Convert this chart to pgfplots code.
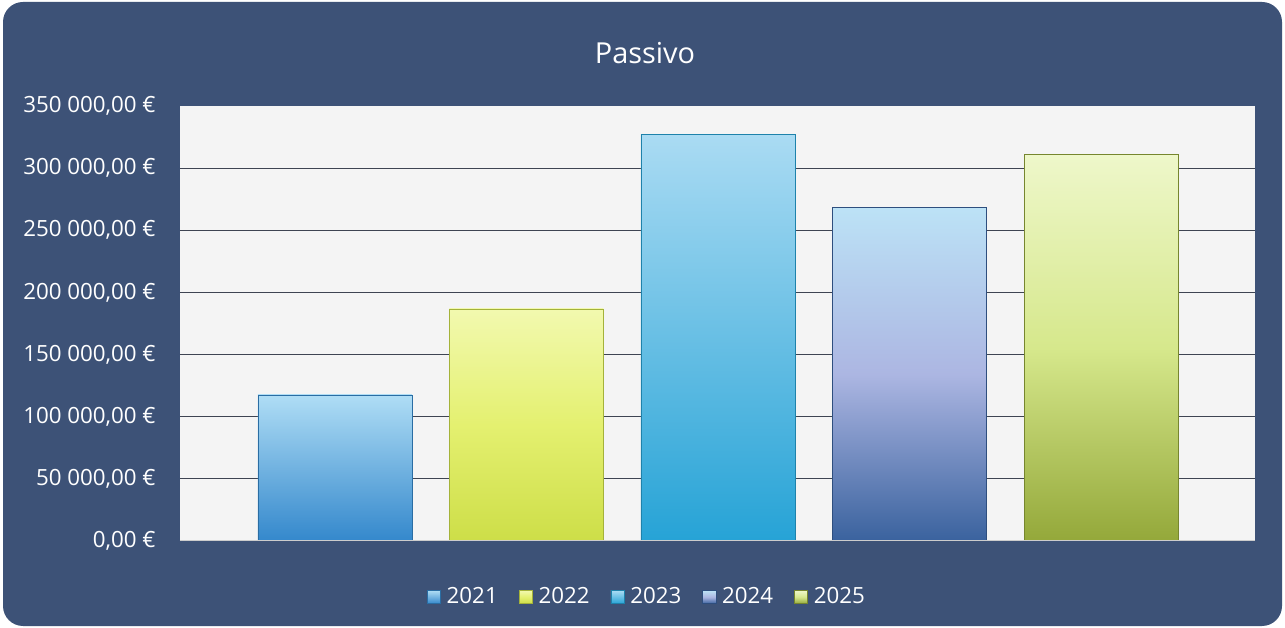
\documentclass[border=0pt]{standalone}
\usepackage{fontspec}
\setmainfont{Open Sans}
\usepackage{pgfplots}
\pgfplotsset{compat=1.18}

\definecolor{cardbg}{RGB}{61,82,119}
\definecolor{plotbg}{RGB}{244,244,244}
\definecolor{gridc}{RGB}{62,68,82}
\definecolor{aTop}{RGB}{175,221,245}\definecolor{aBot}{RGB}{52,136,204}
\definecolor{bTop}{RGB}{242,249,175}\definecolor{bMid}{RGB}{228,240,112}\definecolor{bBot}{RGB}{205,222,72}
\definecolor{cTop}{RGB}{170,219,243}\definecolor{cBot}{RGB}{38,163,214}
\definecolor{dTop}{RGB}{188,226,246}\definecolor{dMid}{RGB}{172,182,226}\definecolor{dBot}{RGB}{58,98,158}
\definecolor{eTop}{RGB}{238,247,202}\definecolor{eMid}{RGB}{214,232,140}\definecolor{eBot}{RGB}{148,168,58}

\begin{document}
\begin{tikzpicture}
% card
\useasboundingbox (0,0) rectangle (642.5bp,314bp);
\fill[white] (0,0) rectangle (642.5bp,314bp);
\fill[cardbg, rounded corners=10bp] (1.5bp,1bp) rectangle (641bp,313bp);

\begin{axis}[
    at={(90bp,43.5bp)}, anchor=south west,
    scale only axis, width=537.5bp, height=217.5bp,
    xmin=0.191, xmax=5.804, ymin=0, ymax=350000,
    axis background/.style={fill=plotbg},
    axis line style={draw=none},
    xtick=\empty,
    scaled y ticks=false,
    ytick={50000,100000,150000,200000,250000,300000},
    yticklabels={{50 000,00 €},{100 000,00 €},{150 000,00 €},{200 000,00 €},{250 000,00 €},{300 000,00 €}},
    extra y ticks={0,350000},
    extra y tick labels={{0,00 €},{350 000,00 €}},
    extra y tick style={grid=none},
    tick style={draw=none},
    yticklabel style={text=white, font=\fontsize{11.2}{13}\selectfont, inner sep=0pt, xshift=-12bp},
    ymajorgrids, grid style={gridc, line width=0.6pt},
    bar width=0.804,
    legend columns=5,
    legend style={at={(0.4353,-0.129)}, anchor=center, draw=none, fill=none,
        text=white, font=\fontsize{11.2}{13}\selectfont,
        /tikz/every odd column/.append style={column sep=1bp},
        /tikz/every even column/.append style={column sep=8.5bp}},
    legend image code/.code={\path[#1] (0bp,-3.3bp) rectangle (6.6bp,3.3bp);},
]
\addplot[ybar, bar shift=0pt, draw=aBot!80!black, line width=0.3pt, top color=aTop, bottom color=aBot] coordinates {(1,117500)};
\addplot[ybar, bar shift=0pt, draw=bBot!80!black, line width=0.3pt, top color=bTop, bottom color=bBot, middle color=bMid] coordinates {(2,186800)};
\addplot[ybar, bar shift=0pt, draw=cBot!80!black, line width=0.3pt, top color=cTop, bottom color=cBot] coordinates {(3,326900)};
\addplot[ybar, bar shift=0pt, draw=dBot!80!black, line width=0.3pt, top color=dTop, bottom color=dBot, middle color=dMid] coordinates {(4,268400)};
\addplot[ybar, bar shift=0pt, draw=eBot!80!black, line width=0.3pt, top color=eTop, bottom color=eBot, middle color=eMid] coordinates {(5,310800)};
\legend{2021,2022,2023,2024,2025}
\draw[gray!40, line width=0.6pt] (rel axis cs:0,0) -- (rel axis cs:1,0);
\end{axis}

\node[text=white, font=\fontsize{14.5}{17}\selectfont] at (322.5bp,287.5bp) {Passivo};
\end{tikzpicture}
\end{document}
